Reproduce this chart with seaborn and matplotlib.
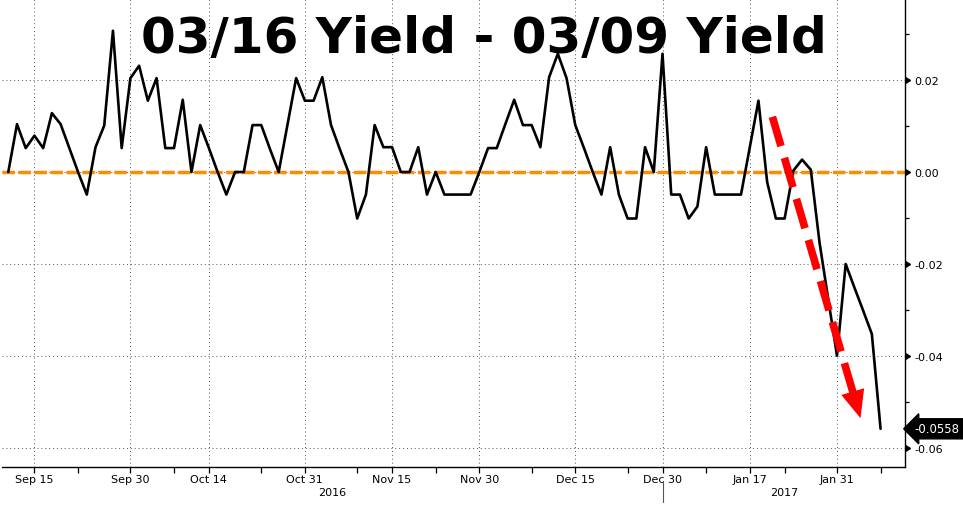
import matplotlib
matplotlib.use("Agg")
from matplotlib import pyplot as plt
import matplotlib.transforms as mtransforms
import seaborn as sns
import pandas as pd
import numpy as np

title = "03/16 Yield - 03/09 Yield"

# bond market holidays skipped by the daily series
holidays = ["2016-10-10", "2016-11-11", "2016-11-24", "2016-12-26", "2017-01-02", "2017-01-16"]

spread = [
    0.0, 0.0104, 0.0052, 0.0079, 0.0052, 0.0128, 0.0104, 0.0052, 0.0, -0.0049,
    0.0054, 0.0101, 0.0307, 0.0052, 0.0204, 0.0231, 0.0155, 0.0204, 0.0052, 0.0052,
    0.0157, 0.0, 0.0102, 0.0052, 0.0, -0.0049, 0.0, 0.0, 0.0102, 0.0102,
    0.005, 0.0, 0.0102, 0.0204, 0.0155, 0.0155, 0.0206, 0.0102, 0.005, 0.0,
    -0.0101, -0.0049, 0.0102, 0.0054, 0.0054, 0.0, 0.0, 0.0054, -0.0049, 0.0,
    -0.0049, -0.0049, -0.0049, -0.0049, 0.0, 0.0052, 0.0052, 0.0105, 0.0157, 0.0102,
    0.0102, 0.0054, 0.0206, 0.0257, 0.0204, 0.0102, 0.0052, 0.0, -0.0049, 0.0054,
    -0.0049, -0.0101, -0.0101, 0.0054, 0.0, 0.0257, -0.0049, -0.0049, -0.0101, -0.0075,
    0.0054, -0.0049, -0.0049, -0.0049, -0.0049, 0.0053, 0.0155, -0.0022, -0.0101, -0.0101,
    0.0003, 0.0027, 0.0005, -0.0153, -0.0276, -0.0399, -0.02, -0.0251, -0.0301, -0.0352,
    -0.0558,
]

tick_dates = ["2016-09-15", "2016-09-30", "2016-10-14", "2016-10-31", "2016-11-15",
              "2016-11-30", "2016-12-15", "2016-12-30", "2017-01-17", "2017-01-31"]
tick_labels = ["Sep 15", "Sep 30", "Oct 14", "Oct 31", "Nov 15",
               "Nov 30", "Dec 15", "Dec 30", "Jan 17", "Jan 31"]
minor_dates = ["2016-09-22", "2016-10-07", "2016-10-24", "2016-11-08", "2016-11-22",
               "2016-12-08", "2016-12-23", "2017-01-09", "2017-01-23", "2017-02-07"]
y_ticks = [0.02, 0.0, -0.02, -0.04, -0.06]
y_tick_labels = ["0.02", "0.00", "-0.02", "-0.04", "-0.06"]
y_minor = [0.03, 0.01, -0.01, -0.03, -0.05]
years = ["2016", "2017"]

dates = pd.bdate_range("2016-09-12", "2017-02-07", freq="C", holidays=holidays)
df = pd.DataFrame({"date": dates, "spread": spread})
df["obs"] = np.arange(len(df))
pos = pd.Series(df["obs"].values, index=df["date"])

sns.set_style("white")
plt.rcParams["font.family"] = ["DejaVu Sans"]
plt.rcParams["text.color"] = "black"

fig = plt.figure(figsize=(9.63, 5.06), dpi=100)
ax = fig.add_axes([2 / 963, 38 / 506, 903 / 963, 468 / 506])

ax.axhline(0, color="#ff8c00", lw=2.5, ls=(0, (3.6, 1.0)), zorder=1)
sns.lineplot(data=df, x="obs", y="spread", color="black", lw=1.9, ax=ax, zorder=3)

ax.set_xlim(-0.72, 102.8)
ax.set_ylim(-0.0641, 0.0376)

ax.set_xticks([pos[pd.Timestamp(d)] for d in tick_dates])
ax.set_xticklabels(tick_labels)
ax.set_xticks([pos[pd.Timestamp(d)] for d in minor_dates], minor=True)
ax.tick_params(axis="x", which="both", direction="out", length=4, width=0.9,
               color="black", labelcolor="black", pad=1, labelsize=8, bottom=True)

ax.yaxis.tick_right()
ax.set_yticks(y_ticks)
ax.set_yticklabels(y_tick_labels)
ax.set_yticks(y_minor, minor=True)
ax.tick_params(axis="y", which="major", direction="out", length=5, width=1,
               color="black", labelcolor="black", pad=2, labelsize=8, right=True, left=False)
ax.tick_params(axis="y", which="minor", direction="out", length=3, width=0.9,
               color="black", right=True, left=False)
for t in ax.yaxis.get_major_ticks():
    t.tick2line.set_marker(9)  # caret pointing right, base on the spine
    t.tick2line.set_markerfacecolor("black")

ax.set_xlabel("")
ax.set_ylabel("")
ax.grid(True, which="major", ls=(0, (1, 3)), color="#555555", lw=0.7)

for side in ["left", "top"]:
    ax.spines[side].set_visible(False)
for side in ["right", "bottom"]:
    ax.spines[side].set_color("black")
    ax.spines[side].set_linewidth(1)

# year labels centered on each year's span, with separator at year change
trans = mtransforms.blended_transform_factory(ax.transData, ax.transAxes)
year_split = pos[pd.Timestamp("2016-12-30")]
lo, hi = ax.get_xlim()
ax.text((lo + year_split) / 2, -0.053, years[0], transform=trans, ha="center", va="center", fontsize=8)
ax.text((year_split + hi) / 2, -0.053, years[1], transform=trans, ha="center", va="center", fontsize=8)
ax.plot([year_split, year_split], [-0.03, -0.075], transform=trans, color="#555555",
        lw=0.8, clip_on=False)

# last value tag
ax.annotate(f"{spread[-1]:.4f}", xy=(1, spread[-1]), xycoords=ax.get_yaxis_transform(),
            xytext=(7, 0), textcoords="offset points", ha="left", va="center",
            color="white", fontsize=8.5, annotation_clip=False,
            bbox=dict(boxstyle="larrow,pad=0.3", fc="black", ec="black"))

# red dashed trend arrow
start = (87.6, 0.012)
tip = (97.7, -0.0535)
ax.annotate("", xy=tip, xytext=start,
            arrowprops=dict(arrowstyle="-", ls=(0, (4.0, 1.6)), lw=5.5, color="red",
                            capstyle="butt", shrinkA=0, shrinkB=16), zorder=4)
back = (tip[0] - 0.12 * (tip[0] - start[0]), tip[1] - 0.12 * (tip[1] - start[1]))
ax.annotate("", xy=tip, xytext=back,
            arrowprops=dict(arrowstyle="-|>,head_length=1.05,head_width=0.45",
                            mutation_scale=19, lw=0, color="red",
                            shrinkA=0, shrinkB=0), zorder=4)

fig.text(484 / 963, 1 - 53 / 506, title, ha="center", va="baseline",
         fontsize=36, fontweight="bold", color="black")

fig.savefig("out.png", dpi=100)
